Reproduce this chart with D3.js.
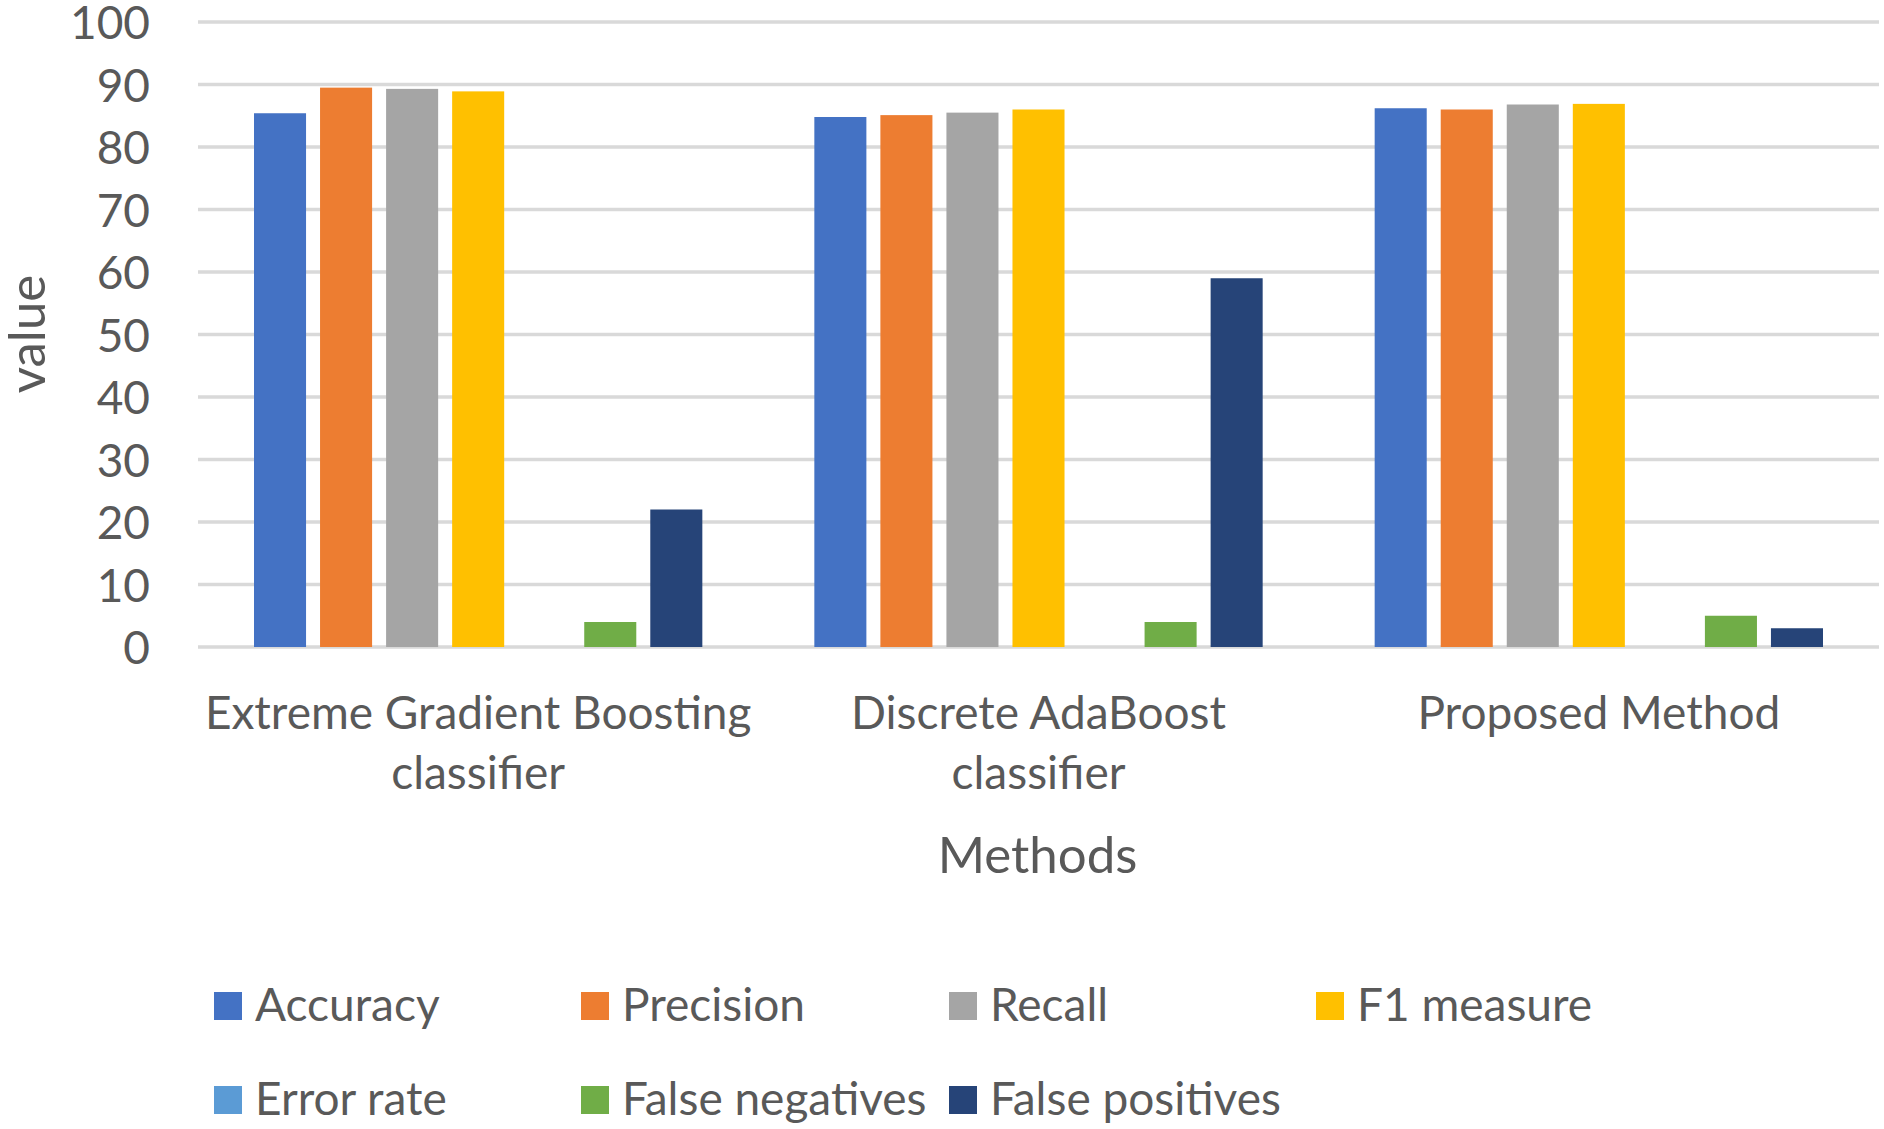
<!DOCTYPE html>
<html>
<head>
<meta charset="utf-8">
<script src="https://cdn.jsdelivr.net/npm/d3@7"></script>
<style>
  html, body { margin: 0; padding: 0; background: #fff; }
  svg { display: block; }
  text { font-family: Lato, "Open Sans", sans-serif; fill: #595959; }
</style>
</head>
<body>
<svg id="chart" width="1884" height="1129"></svg>
<script>
const categories = [["Extreme Gradient Boosting", "classifier"], ["Discrete AdaBoost", "classifier"], ["Proposed Method"]];
const seriesNames = ["Accuracy", "Precision", "Recall", "F1 measure", "Error rate", "False negatives", "False positives"];
const seriesColors = ["#4472C4", "#ED7D31", "#A5A5A5", "#FFC000", "#5B9BD5", "#70AD47", "#264478"];
const accuracy = [85.4, 84.8, 86.2];
const precision = [89.5, 85.1, 86.0];
const recall = [89.3, 85.5, 86.8];
const f1measure = [88.9, 86.0, 86.9];
const errorRate = [0, 0, 0];
const falseNegatives = [4, 4, 5];
const falsePositives = [22, 59, 3];
const yTicks = [0, 10, 20, 30, 40, 50, 60, 70, 80, 90, 100];
const xTitle = "Methods";
const yTitle = "value";

const seriesValues = [accuracy, precision, recall, f1measure, errorRate, falseNegatives, falsePositives];

const svg = d3.select("#chart");
const plotLeft = 198, plotRight = 1879, plotTop = 22, plotBottom = 647;

const x0 = d3.scaleBand().domain(d3.range(categories.length)).range([plotLeft, plotRight]).padding(0);
const x1 = d3.scaleBand().domain(d3.range(seriesNames.length))
  .range([49, x0.bandwidth() - 49]).paddingInner(0.212).paddingOuter(0.106);
const y = d3.scaleLinear().domain([0, 100]).range([plotBottom, plotTop]);

// gridlines
svg.append("g").selectAll("line").data(yTicks).join("line")
  .attr("x1", plotLeft).attr("x2", plotRight)
  .attr("y1", d => y(d)).attr("y2", d => y(d))
  .attr("stroke", "#d9d9d9").attr("stroke-width", 3.5);

// y axis labels
const yAxis = d3.axisLeft(y).tickValues(yTicks).tickSize(0).tickPadding(0);
const yg = svg.append("g").attr("transform", `translate(150,0)`).call(yAxis);
yg.select(".domain").remove();
yg.selectAll("text").attr("font-size", 46).attr("fill", "#595959")
  .style("font-family", "Lato, sans-serif").attr("dy", "0.36em");

// bars
const groups = svg.append("g").selectAll("g").data(categories).join("g")
  .attr("transform", (d, i) => `translate(${x0(i)},0)`);
groups.selectAll("rect")
  .data((d, i) => seriesValues.map((vals, s) => ({ s, v: vals[i] })))
  .join("rect")
  .attr("x", d => x1(d.s))
  .attr("width", x1.bandwidth())
  .attr("y", d => y(d.v))
  .attr("height", d => y(0) - y(d.v))
  .attr("fill", d => seriesColors[d.s]);

// x category labels
const xl = svg.append("g");
categories.forEach((lines, i) => {
  const cx = x0(i) + x0.bandwidth() / 2;
  const t = xl.append("text")
    .attr("x", cx)
    .attr("y", 729)
    .attr("text-anchor", "middle")
    .attr("font-size", 46);
  lines.forEach((ln, k) => {
    t.append("tspan").attr("x", cx).attr("dy", k === 0 ? 0 : 60).text(ln);
  });
});

// axis titles
svg.append("text").attr("x", (plotLeft + plotRight) / 2 - 1).attr("y", 873)
  .attr("text-anchor", "middle").attr("font-size", 51).text(xTitle);
svg.append("text").attr("transform", "translate(45,334) rotate(-90)")
  .attr("text-anchor", "middle").attr("font-size", 51).text(yTitle);

// legend
const legX = [214, 581, 949, 1316];
const legY = [1006, 1100];
const leg = svg.append("g").selectAll("g").data(seriesNames).join("g")
  .attr("transform", (d, i) => `translate(${legX[i % 4]},${legY[Math.floor(i / 4)]})`);
leg.append("rect").attr("x", 0).attr("y", -14).attr("width", 28).attr("height", 28)
  .attr("fill", (d, i) => seriesColors[i]);
leg.append("text").attr("x", 41).attr("y", 15).attr("font-size", 46).text(d => d);
</script>
</body>
</html>
